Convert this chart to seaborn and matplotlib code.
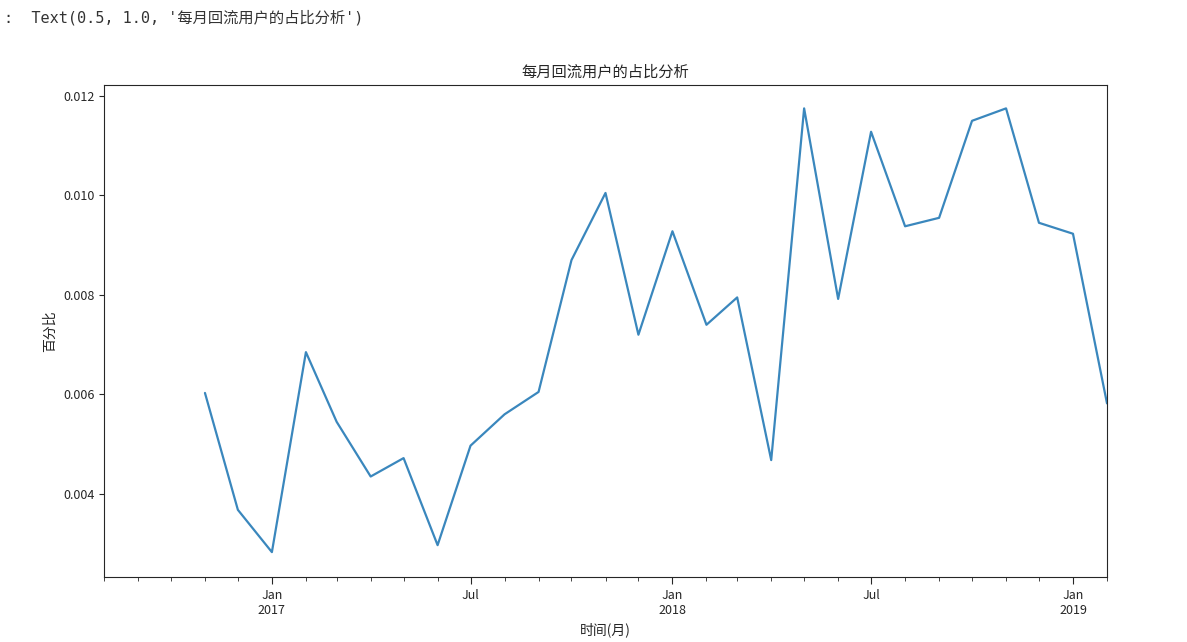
import matplotlib
matplotlib.use("Agg")
import matplotlib.pyplot as plt
import matplotlib.dates as mdates
import seaborn as sns
import pandas as pd
import numpy as np

months = pd.date_range("2016-11-01", "2019-02-01", freq="MS")
values = [0.00603, 0.00368, 0.00283, 0.00685, 0.00545, 0.00435, 0.00472, 0.00297,
          0.00497, 0.00560, 0.00605, 0.00870, 0.01005, 0.00720, 0.00928, 0.00740,
          0.00795, 0.00468, 0.01175, 0.00792, 0.01128, 0.00938, 0.00955, 0.01150,
          0.01175, 0.00945, 0.00923, 0.00582]
df = pd.DataFrame({"month": months, "ratio": values})

sns.set_style("ticks")
plt.rcParams['font.family'] = ['Noto Sans CJK SC', 'DejaVu Sans']
fig = plt.figure(figsize=(11.87, 6.42), dpi=100)
ax = fig.add_axes([104/1187, 1-577/642, (1107-104)/1187, (577-85)/642])
sns.lineplot(data=df, x="month", y="ratio", ax=ax, color="#3a87bd", linewidth=1.6)
ax.set_xlim(pd.Timestamp("2016-08-01"), pd.Timestamp("2019-02-01"))
ax.set_ylim(0.00233, 0.01222)
ax.set_yticks([0.004, 0.006, 0.008, 0.010, 0.012])
ax.set_yticklabels(["0.004", "0.006", "0.008", "0.010", "0.012"], fontsize=9)
maj = [pd.Timestamp(s) for s in ["2017-01-01", "2017-07-01", "2018-01-01", "2018-07-01", "2019-01-01"]]
ax.set_xticks(maj)
ax.set_xticklabels(["Jan\n2017", "Jul", "Jan\n2018", "Jul", "Jan\n2019"], fontsize=9)
ax.xaxis.set_minor_locator(mdates.MonthLocator())
ax.tick_params(axis='x', which='major', length=5)
ax.tick_params(axis='x', which='minor', length=3)
ax.set_xlabel("时间(月)", fontsize=10)
ax.set_ylabel("百分比", fontsize=10)
ax.set_title("每月回流用户的占比分析", fontsize=11)
for s in ax.spines.values():
    s.set_visible(True)
fig.text(0.003, 0.965, ":  Text(0.5, 1.0, '每月回流用户的占比分析')", fontsize=11,
         family=['DejaVu Sans Mono', 'Noto Sans CJK SC'], color="#333333")
fig.savefig("out.png", dpi=100)
